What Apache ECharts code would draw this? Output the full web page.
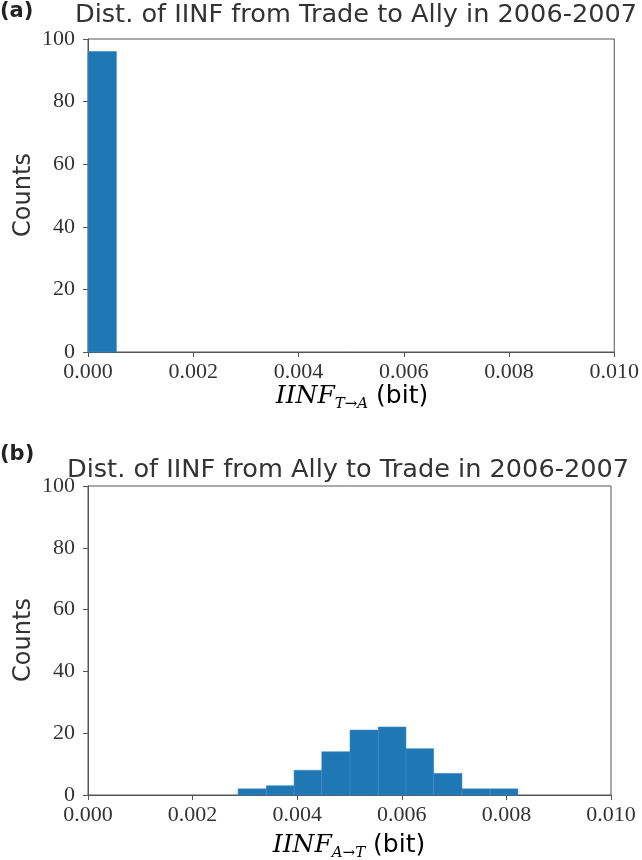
<!DOCTYPE html>
<html>
<head>
<meta charset="utf-8">
<script src="https://cdn.jsdelivr.net/npm/echarts@6/dist/echarts.min.js"></script>
<style>html,body{margin:0;padding:0;background:#fff;}#chart{width:642px;height:860px;}</style>
</head>
<body>
<div id="chart"></div>
<script>
// Panel (a): IINF Trade -> Ally
const edgesA = [0, 0.00054];
const countsA = [96];
// Panel (b): IINF Ally -> Trade
const edgesB = [0.00287, 0.00341, 0.00394, 0.00447, 0.00501, 0.00555, 0.00608, 0.00661, 0.00715, 0.00769, 0.00822];
const countsB = [2, 3, 8, 14, 21, 22, 15, 7, 2, 2];
const xTicks = [0, 0.002, 0.004, 0.006, 0.008, 0.010];
const yTicks = [0, 20, 40, 60, 80, 100];
const titleA = 'Dist. of IINF from Trade to Ally in 2006-2007';
const titleB = 'Dist. of IINF from Ally to Trade in 2006-2007';

function toBins(edges, counts) {
  return counts.map((c, i) => [edges[i], edges[i + 1], c]);
}

const chart = echarts.init(document.getElementById('chart'), null, {renderer: 'canvas'});
const axisColor = '#555';
const labelFont = {fontFamily: 'Liberation Serif', fontSize: 22, color: '#333'};

function xAxis(gi) {
  return {
    type: 'value', gridIndex: gi, min: xTicks[0], max: xTicks[xTicks.length - 1], interval: xTicks[1] - xTicks[0],
    axisLine: {show: true, lineStyle: {color: axisColor, width: 1}},
    axisTick: {show: true, inside: false, length: 5, lineStyle: {color: axisColor}},
    splitLine: {show: false},
    axisLabel: Object.assign({margin: 9, formatter: v => v.toFixed(3)}, labelFont)
  };
}
function yAxis(gi) {
  return {
    type: 'value', gridIndex: gi, min: yTicks[0], max: yTicks[yTicks.length - 1], interval: yTicks[1] - yTicks[0],
    axisLine: {show: true, lineStyle: {color: axisColor, width: 1}},
    axisTick: {show: true, inside: false, length: 5, lineStyle: {color: axisColor}},
    splitLine: {show: false},
    axisLabel: Object.assign({margin: 13}, labelFont)
  };
}
function renderBar(params, api) {
  const p0 = api.coord([api.value(0), api.value(2)]);
  const p1 = api.coord([api.value(1), 0]);
  return {
    type: 'rect',
    shape: {x: p0[0], y: p0[1], width: p1[0] - p0[0], height: p1[1] - p0[1]},
    style: {fill: '#1f77b4', stroke: '#3d8cc6', lineWidth: 0.6}
  };
}

const nameRich = {
  it: {fontFamily: 'DejaVu Serif', fontStyle: 'italic', fontSize: 25, color: '#333'},
  sub: {fontFamily: 'DejaVu Serif', fontStyle: 'italic', fontSize: 15, color: '#333', padding: [16, 0, 0, 0]},
  sans: {fontFamily: 'DejaVu Sans', fontSize: 25, color: '#333'}
};

chart.setOption({
  animation: false,
  backgroundColor: '#fff',
  grid: [
    {left: 88, right: 25.5, top: 39, bottom: 508, show: true, borderColor: axisColor, borderWidth: 1},
    {left: 88, right: 31, top: 486, bottom: 65, show: true, borderColor: axisColor, borderWidth: 1}
  ],
  xAxis: [xAxis(0), xAxis(1)],
  yAxis: [yAxis(0), yAxis(1)],
  series: [
    {type: 'custom', xAxisIndex: 0, yAxisIndex: 0, renderItem: renderBar, encode: {x: [0, 1], y: 2}, data: toBins(edgesA, countsA)},
    {type: 'custom', xAxisIndex: 1, yAxisIndex: 1, renderItem: renderBar, encode: {x: [0, 1], y: 2}, data: toBins(edgesB, countsB)}
  ],
  graphic: [
    {type: 'text', left: 0, top: 1, style: {text: '(a)', font: 'bold 21px "DejaVu Sans"', fill: '#222'}},
    {type: 'text', x: 356, y: 15, style: {text: titleA, font: '25.6px "DejaVu Sans"', fill: '#333', textAlign: 'center', textVerticalAlign: 'middle'}},
    {type: 'text', left: 0, top: 444, style: {text: '(b)', font: 'bold 21px "DejaVu Sans"', fill: '#222'}},
    {type: 'text', x: 348, y: 470, style: {text: titleB, font: '25.6px "DejaVu Sans"', fill: '#333', textAlign: 'center', textVerticalAlign: 'middle'}},
    {type: 'text', x: 24, y: 195, rotation: Math.PI / 2, style: {text: 'Counts', font: '24px "DejaVu Sans"', fill: '#333', textAlign: 'center', textVerticalAlign: 'middle'}},
    {type: 'text', x: 24, y: 640, rotation: Math.PI / 2, style: {text: 'Counts', font: '24px "DejaVu Sans"', fill: '#333', textAlign: 'center', textVerticalAlign: 'middle'}},
    {type: 'text', x: 352, y: 396, style: {text: '{it|IINF}{sub|T→A}{sans| (bit)}', rich: nameRich, textAlign: 'center', textVerticalAlign: 'middle'}},
    {type: 'text', x: 349, y: 845, style: {text: '{it|IINF}{sub|A→T}{sans| (bit)}', rich: nameRich, textAlign: 'center', textVerticalAlign: 'middle'}}
  ]
});
</script>
</body>
</html>
